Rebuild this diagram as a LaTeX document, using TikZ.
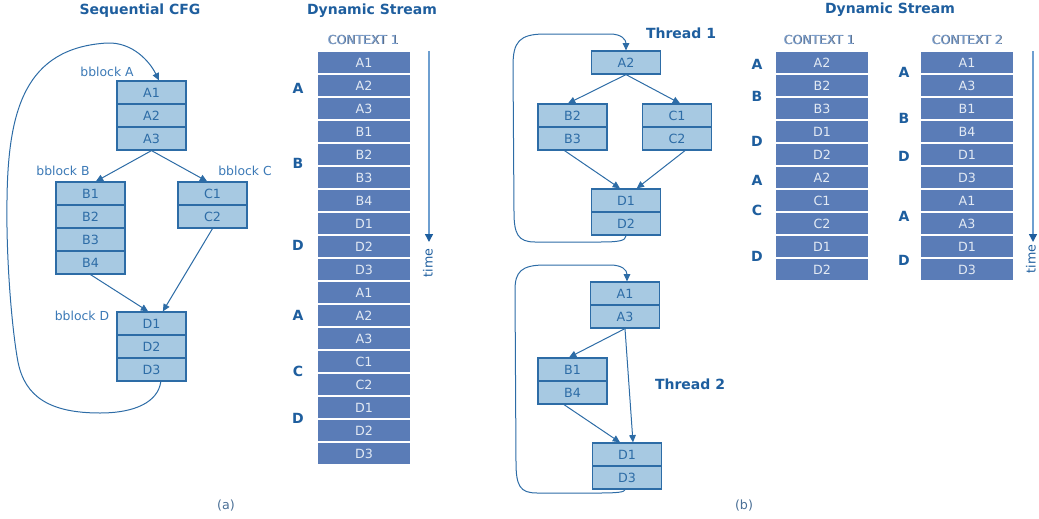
\documentclass[tikz,border=0pt]{standalone}
\usepackage{fontspec}
\setmainfont{DejaVu Sans}
\usetikzlibrary{arrows.meta,calc}

\definecolor{cfgfill}{HTML}{A7C9E2}
\definecolor{cfgline}{HTML}{2D6CA6}
\definecolor{lbltext}{HTML}{3B79B6}
\definecolor{strfill}{HTML}{5A7CB7}
\definecolor{strtext}{HTML}{E3EAF4}
\definecolor{headblue}{HTML}{1E5E9E}
\definecolor{timeline}{HTML}{6E9FD0}
\definecolor{ctxfill}{HTML}{7FA2D0}
\definecolor{ctxshade}{HTML}{56667C}
\definecolor{captext}{HTML}{4A6F96}

% embossed column heading
\newcommand{\ctxlabel}[1]{\leavevmode\rlap{\kern0.6pt\raisebox{-0.6pt}{\textcolor{ctxshade}{#1}}}\textcolor{ctxfill}{#1}}

\tikzset{
  cfgrow/.style={draw=cfgline, line width=0.9pt, fill=cfgfill, text=cfgline,
    minimum width=51.75pt, minimum height=17.25pt, inner sep=0pt,
    font=\fontsize{9.5}{9.5}\selectfont},
  srow/.style={draw=white, line width=0.9pt, fill=strfill, text=strtext,
    minimum width=70.5pt, minimum height=17.25pt, inner sep=0pt,
    font=\fontsize{9.5}{9.5}\selectfont},
  blabel/.style={text=lbltext, inner sep=0pt, font=\fontsize{9.3}{9.3}\selectfont},
  head/.style={text=headblue, inner sep=0pt, font=\fontsize{10.5}{10.5}\selectfont\bfseries},
  seg/.style={text=headblue, inner sep=0pt, font=\fontsize{10.5}{10.5}\selectfont\bfseries},
  ctx/.style={inner sep=0pt, font=\fontsize{9.3}{9.3}\selectfont},
  subcap/.style={text=captext, inner sep=0pt, font=\fontsize{9.5}{9.5}\selectfont},
  flow/.style={draw=cfgline, line width=0.75pt, -{Triangle[length=5.5pt,width=5pt]}},
  timearrow/.style={draw=timeline, line width=1.1pt,
    -{Triangle[length=6pt,width=6pt,color=headblue]}},
  timelabel/.style={text=headblue, inner sep=0pt, rotate=90, font=\fontsize{9.5}{9.5}\selectfont},
}

\begin{document}
\begin{tikzpicture}[x=0.75pt, y=-0.75pt]
\useasboundingbox (0,0) rectangle (1039,518);

% ---------------- (a) sequential control-flow graph ----------------
\node[head] (hcfg) at (140,11) {Sequential CFG};

\node[blabel] (lA) at (107,72) {bblock A};
\node[cfgrow] (a-A1) at (151.5,92.5) {A1};
\node[cfgrow] (a-A2) at (151.5,115.5) {A2};
\node[cfgrow] (a-A3) at (151.5,138.5) {A3};

\node[blabel] (lB) at (63,171) {bblock B};
\node[cfgrow] (a-B1) at (90.5,193.5) {B1};
\node[cfgrow] (a-B2) at (90.5,216.5) {B2};
\node[cfgrow] (a-B3) at (90.5,239.5) {B3};
\node[cfgrow] (a-B4) at (90.5,262.5) {B4};

\node[blabel] (lC) at (245,171) {bblock C};
\node[cfgrow] (a-C1) at (212.5,193.5) {C1};
\node[cfgrow] (a-C2) at (212.5,216.5) {C2};

\node[blabel] (lD) at (82,316) {bblock D};
\node[cfgrow] (a-D1) at (151.5,323.5) {D1};
\node[cfgrow] (a-D2) at (151.5,346.5) {D2};
\node[cfgrow] (a-D3) at (151.5,369.5) {D3};

\draw[flow] (a-A3.south) -- ([xshift=4pt]a-B1.north);
\draw[flow] (a-A3.south) -- ([xshift=-4pt]a-C1.north);
\draw[flow] (a-B4.south) -- ([xshift=-2.5pt]a-D1.north);
\draw[flow] (a-C2.south) -- ([xshift=8.5pt]a-D1.north);
\draw[flow] ([xshift=7pt]a-D3.south)
  .. controls (158,402) and (135,413) .. (100,413)
  .. controls (50,413) and (25,397) .. (18,362)
  .. controls (12,330) and (6,260) .. (7,200)
  .. controls (8,110) and (25,48) .. (107,43)
  .. controls (133,42) and (150,62) .. ([xshift=5.6pt]a-A1.north);

% ---------------- (a) dynamic stream ----------------
\node[head] (hdsa) at (372,11) {Dynamic Stream};
\node[ctx] (ctxa) at (363,40) {\ctxlabel{CONTEXT 1}};
\foreach \t [count=\i] in {A1,A2,A3,B1,B2,B3,B4,D1,D2,D3,A1,A2,A3,C1,C2,D1,D2,D3}
  \node[srow] (sa-\i) at (364,{62.5+23*(\i-1)}) {\t};

\node[seg] (ga1) at (298,88) {A};
\node[seg] (gb1) at (298,163) {B};
\node[seg] (gd1) at (298,245) {D};
\node[seg] (ga2) at (298,315) {A};
\node[seg] (gc1) at (298,371) {C};
\node[seg] (gd2) at (298,418) {D};

\coordinate (ta-top) at (429,51);
\coordinate (ta-end) at (429,242);
\draw[timearrow] (ta-top) -- (ta-end);
\node[timelabel] (tla) at (428,263) {time};

\node[subcap] (capa) at (226,506) {(a)};

% ---------------- (b) thread 1 ----------------
\node[head] (hth1) at (681,33) {Thread 1};
\node[cfgrow] (t1-A2) at (626,62.5) {A2};
\node[cfgrow] (t1-B2) at (572.5,115.5) {B2};
\node[cfgrow] (t1-B3) at (572.5,138.5) {B3};
\node[cfgrow] (t1-C1) at (677,115.5) {C1};
\node[cfgrow] (t1-C2) at (677,138.5) {C2};
\node[cfgrow] (t1-D1) at (626,200.5) {D1};
\node[cfgrow] (t1-D2) at (626,223.5) {D2};

\draw[flow] (t1-A2.south) -- ([xshift=-3.4pt]t1-B2.north);
\draw[flow] (t1-A2.south) -- ([xshift=2.3pt]t1-C1.north);
\draw[flow] ([xshift=-6pt]t1-B3.south) -- ([xshift=-4.5pt]t1-D1.north);
\draw[flow] ([xshift=6pt]t1-C2.south) -- ([xshift=8pt]t1-D1.north);
\draw[flow] (t1-D2.south)
  .. controls (626,241) and (618,242) .. (600,242) -- (535,242)
  .. controls (518,242) and (514,234) .. (514,212) -- (513,66)
  .. controls (513,42) and (519,34) .. (545,34) -- (610,34)
  .. controls (622,34) and (626,40) .. (t1-A2.north);

% ---------------- (b) thread 2 ----------------
\node[head] (hth2) at (690,384) {Thread 2};
\node[cfgrow] (t2-A1) at (625,293.5) {A1};
\node[cfgrow] (t2-A3) at (625,316.5) {A3};
\node[cfgrow] (t2-B1) at (572.5,369.5) {B1};
\node[cfgrow] (t2-B4) at (572.5,392.5) {B4};
\node[cfgrow] (t2-D1) at (627,454.5) {D1};
\node[cfgrow] (t2-D3) at (627,477.5) {D3};

\draw[flow] (t2-A3.south) -- ([xshift=-2.6pt]t2-B1.north);
\draw[flow] (t2-A3.south) -- ([xshift=4.5pt]t2-D1.north);
\draw[flow] ([xshift=-6.4pt]t2-B4.south) -- ([xshift=-5.2pt]t2-D1.north);
\draw[flow] ([xshift=-1.5pt]t2-D3.south)
  .. controls (625,492) and (618,493) .. (600,493) -- (537,493)
  .. controls (520,493) and (516,486) .. (516,462) -- (515,290)
  .. controls (515,272) and (521,265) .. (545,265) -- (610,265)
  .. controls (622,265) and (627,270) .. ([xshift=1.5pt]t2-A1.north);

% ---------------- (b) dynamic streams ----------------
\node[head] (hdsb) at (890,10) {Dynamic Stream};
\node[ctx] (ctxb1) at (819,40) {\ctxlabel{CONTEXT 1}};
\node[ctx] (ctxb2) at (967,40) {\ctxlabel{CONTEXT 2}};

\foreach \t [count=\i] in {A2,B2,B3,D1,D2,A2,C1,C2,D1,D2}
  \node[srow] (sb-\i) at (822,{62.5+23*(\i-1)}) {\t};
\foreach \t [count=\i] in {A1,A3,B1,B4,D1,D3,A1,A3,D1,D3}
  \node[srow] (sc-\i) at (967,{62.5+23*(\i-1)}) {\t};

\node[seg] (hb-a1) at (757,64) {A};
\node[seg] (hb-b1) at (757,96) {B};
\node[seg] (hb-d1) at (757,141) {D};
\node[seg] (hb-a2) at (757,180) {A};
\node[seg] (hb-c1) at (757,210) {C};
\node[seg] (hb-d2) at (757,256) {D};

\node[seg] (hc-a1) at (904,72) {A};
\node[seg] (hc-b1) at (904,118) {B};
\node[seg] (hc-d1) at (904,156) {D};
\node[seg] (hc-a2) at (904,216) {A};
\node[seg] (hc-d2) at (904,260) {D};

\coordinate (tb-top) at (1033,51);
\coordinate (tb-end) at (1033,242);
\draw[timearrow] (tb-top) -- (tb-end);
\node[timelabel] (tlb) at (1031,259) {time};

\node[subcap] (capb) at (744,506) {(b)};
\end{tikzpicture}
\end{document}
